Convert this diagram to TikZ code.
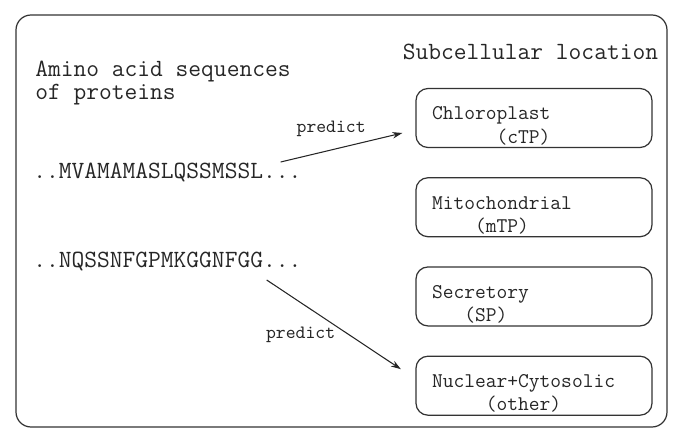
\documentclass[tikz,border=0pt]{standalone}
\usepackage{tikz}
\usetikzlibrary{arrows.meta, positioning}
\newcommand{\indt}[1]{\hspace*{#1\fontcharwd\font`\M}}
\newcommand{\topgap}{\rule{0pt}{16.4pt}}

\begin{document}
\begin{tikzpicture}[
    node distance=0.58cm,
    heading/.style={anchor=west, inner sep=0pt, text=black!85, align=left, font=\ttfamily\fontsize{14.1}{13.1}\selectfont},
    seqtext/.style={anchor=west, inner sep=0pt, text=black!85, font=\ttfamily\fontsize{14.1}{13.1}\selectfont},
    location/.style={rectangle, rounded corners=0.24cm, minimum width=4.72cm, minimum height=1.18cm, text width=4.08cm, inner xsep=0.32cm, inner ysep=0pt, align=left, draw=black!80, line width=0.7pt, text=black!85, font=\ttfamily\fontsize{11.9}{13.2}\selectfont},
    arrow/.style={line width=0.6pt, draw=black!85, -{Stealth[length=0.2cm, width=0.13cm]}},
    lbl/.style={inner sep=0pt, text=black!85, font=\ttfamily\fontsize{10.7}{11}\selectfont}
]
\useasboundingbox (0,0) rectangle (13.7,8.8);
\draw [black!80, line width=0.7pt, rounded corners=0.3cm] (0.32,0.26) rectangle (13.34,8.5);

\node (amino) [heading] at (0.7,7.13) {Amino acid sequences\\of proteins};
\node (subcell) [heading] at (8.05,7.76) {Subcellular location};
\node (seq1) [seqtext] at (0.66,5.36) {..MVAMAMASLQSSMSSL...};
\node (seq2) [seqtext] at (0.66,3.56) {..NQSSNFGPMKGGNFGG...};

\node (chl) [location] at (10.68,6.44) {\topgap Chloroplast\\\indt{6}(cTP)};
\node (mito) [location, below=of chl] {\topgap Mitochondrial\\\indt{4}(mTP)};
\node (secr) [location, below=of mito] {\topgap Secretory\\\indt{3}(SP)};
\node (nuc) [location, below=of secr] {\topgap Nuclear+Cytosolic\\\indt{5}(other)};

\draw [arrow] ([xshift=-0.42cm, yshift=0.2cm]seq1.east) -- node[lbl, pos=0.415, yshift=0.42cm] {predict} ([xshift=-0.26cm, yshift=-0.3cm]chl.west);
\draw [arrow] ([xshift=-0.7cm, yshift=-0.36cm]seq2.east) -- node[lbl, pos=0.253, yshift=-0.64cm] {predict} ([xshift=-0.29cm, yshift=0.33cm]nuc.west);
\end{tikzpicture}
\end{document}
